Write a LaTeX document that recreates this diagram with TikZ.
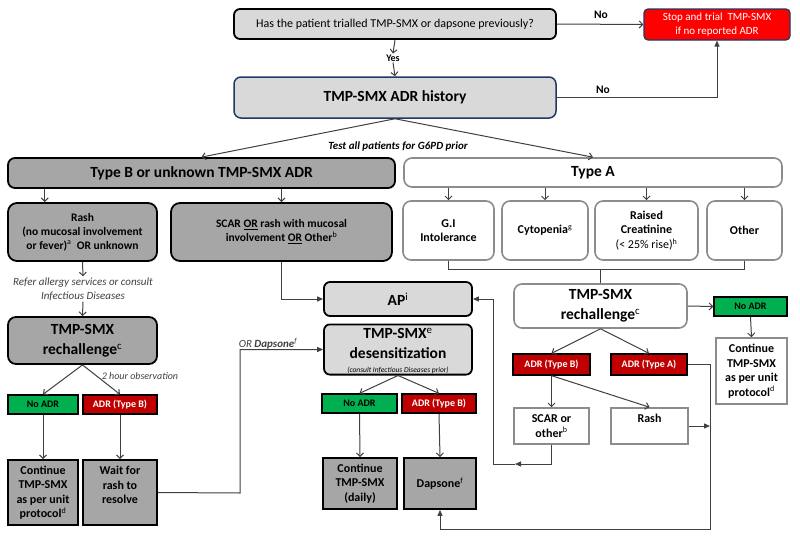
\documentclass[tikz,border=0pt]{standalone}
\usepackage{fontspec}
\setmainfont{Carlito}
\usetikzlibrary{arrows.meta,calc}
\definecolor{lgray}{HTML}{D9D9D9}
\definecolor{dgray}{HTML}{A6A6A6}
\definecolor{bgray}{HTML}{8C8C8C}
\definecolor{adrgreen}{HTML}{00B050}
\definecolor{adrred}{HTML}{C00000}
\definecolor{stopred}{HTML}{FF0000}
\definecolor{navy}{HTML}{1F3864}
\definecolor{lnc}{HTML}{404040}
\newcommand{\fsXL}{\fontsize{15.5}{20}\selectfont}
\newcommand{\fsL}{\fontsize{12}{14.5}\selectfont}
\newcommand{\fsM}{\fontsize{11.5}{14}\selectfont}
\newcommand{\fsS}{\fontsize{10}{12}\selectfont}
\newcommand{\fsI}{\fontsize{10}{13.5}\selectfont}
\newcommand{\fsIL}{\fontsize{11}{14}\selectfont}
\begin{document}
\begin{tikzpicture}[x=1pt,y=-1pt,
 wh/.style 2 args={minimum width=#1, minimum height=#2},
 base/.style={align=center, inner sep=1pt, text=black},
 lgbox/.style={base, rounded corners=6, draw=black, line width=1.8, fill=lgray, font=\bfseries\fsXL},
 dgbox/.style={base, rounded corners=7, draw=black, line width=1.8, fill=dgray, font=\bfseries\fsXL},
 wbox/.style={base, rounded corners=8, draw=bgray, line width=1.6, fill=white, font=\bfseries\fsL},
 histbox/.style={base, rounded corners=7, draw=navy, line width=1.5, fill=lgray, font=\bfseries\fsXL},
 stopbox/.style={base, rounded corners=4, draw=navy, line width=1.2, fill=stopred, text=white, font=\fontsize{11}{14}\selectfont},
 lab/.style={base, inner sep=0pt, draw=black, line width=1.3, font=\bfseries\fsS},
 sqd/.style={base, draw=black, line width=1.8, fill=dgray, font=\bfseries\fsL},
 sqw/.style={base, draw=bgray, line width=1.6, fill=white, font=\bfseries\fsL},
 oarr/.style={draw=lnc, line width=1, -{Straight Barb[length=3.5pt,width=7pt]}},
 farr/.style={draw=lnc, line width=1, -{Triangle[length=6pt,width=5pt]}},
 ln/.style={draw=lnc, line width=1}]
\fill[white] (0,0) rectangle (800,538);
\useasboundingbox (0,0) rectangle (800,538);

% top
\node[lgbox, font=\fontsize{12}{14}\selectfont, wh={322}{30}] (q1) at (395,24) {Has the patient trialled TMP-SMX or dapsone previously?};
\node[stopbox, wh={146}{31}] (stop) at (717,24.5) {Stop and trial\ \ TMP-SMX\\if no reported ADR};
\node[font=\bfseries\fsS, inner sep=1pt] (yes) at (393,58) {Yes};
\node[histbox, wh={322}{41}] (hist) at (395,97.5) {TMP-SMX ADR history};
\node[font=\bfseries\fsM] (no1) at (601,15) {No};
\node[font=\bfseries\fsM] (no2) at (603,90) {No};
\node[font=\bfseries\itshape\fsIL] (test) at (398,147) {Test all patients for G6PD prior};

\node[dgbox, wh={387}{30}] (typeB) at (201.5,173) {Type B or unknown TMP-SMX ADR};
\node[wbox, font=\bfseries\fsXL, wh={378}{29}] (typeA) at (593,172.5) {Type A};

% left branch
\node[dgbox, font=\bfseries\fsM, wh={149}{58}, rounded corners=9] (rash) at (82.5,232) {Rash\\(no mucosal involvement\\or fever)\textsuperscript{\mdseries a}\ \ OR unknown};
\node[dgbox, font=\bfseries\fsM, wh={221}{58}, rounded corners=9] (scar) at (281.5,232) {SCAR \underline{OR} rash with mucosal\\involvement \underline{OR} Other\textsuperscript{\mdseries b}};
\node[font=\itshape\fsIL, align=center, text=lnc, inner sep=1pt] (refer) at (83,289) {Refer allergy services or consult\\Infectious Diseases};
\node[dgbox, wh={149}{47}, rounded corners=8] (rechL) at (82.5,340.5) {TMP-SMX\\rechallenge\textsuperscript{\mdseries c}};
\node[font=\itshape\fsI, text=lnc] (obs) at (140,376) {2 hour observation};
\node[lab, fill=adrgreen, wh={70}{19}] (noL) at (43,404.5) {No ADR};
\node[lab, fill=adrred, text=white, wh={74}{19}] (adrL) at (120,404.5) {ADR (Type B)};
\node[sqd, wh={70}{65}] (contL) at (43,492.5) {Continue\\TMP-SMX\\as per unit\\protocol\textsuperscript{\mdseries d}};
\node[sqd, wh={74}{65}] (wait) at (120,492.5) {Wait for\\rash to\\resolve\\\mbox{}};

% middle
\node[lgbox, wh={148}{34}] (ap) at (398,299) {AP\textsuperscript{\mdseries i}};
\node[lgbox, wh={148}{49}] (desens) at (398,349.5) {\rule{0pt}{13pt}TMP-SMX\textsuperscript{\mdseries e}\\desensitization\\[-6pt]{\mdseries\itshape\fontsize{7.5}{9}\selectfont (consult Infectious Diseases prior)}};
\node[font=\fsIL, text=lnc] (ordap) at (268,344) {\itshape OR \textbf{Dapsone}\textsuperscript{f}};
\node[lab, fill=adrgreen, wh={75}{19}] (noM) at (359.5,403.5) {No ADR};
\node[lab, fill=adrred, text=white, wh={74}{19}] (adrM) at (439,403.5) {ADR (Type B)};
\node[sqd, wh={74}{51}] (contM) at (360,483.5) {Continue\\TMP-SMX\\(daily)};
\node[sqd, wh={72}{51}] (daps) at (440,483.5) {Dapsone\textsuperscript{\mdseries f}};

% right branch
\node[wbox, wh={91}{59}] (gi) at (448.5,230.5) {G.I\\Intolerance};
\node[wbox, wh={86}{59}] (cyto) at (545,230.5) {Cytopenia\textsuperscript{\mdseries g}};
\node[wbox, wh={103}{59}] (creat) at (646.5,230.5) {Raised\\Creatinine\\{\mdseries (< 25\% rise)\textsuperscript{h}}};
\node[wbox, wh={75}{59}] (other) at (744.5,230.5) {Other};
\node[wbox, font=\bfseries\fsXL, wh={173}{44}] (rechR) at (600.5,306) {TMP-SMX\\rechallenge\textsuperscript{\mdseries c}};
\node[lab, fill=adrgreen, wh={73}{19}] (noR) at (750.5,306.5) {No ADR};
\node[sqw, wh={71}{66}] (contR) at (751.5,371) {Continue\\TMP-SMX\\as per unit\\protocol\textsuperscript{\mdseries d}};
\node[lab, fill=adrred, text=white, wh={77}{21}] (adrRB) at (551.5,364.5) {ADR (Type B)};
\node[lab, fill=adrred, text=white, wh={76}{21}] (adrRA) at (649,364.5) {ADR (Type A)};
\node[sqw, wh={75}{36}] (scarR) at (551.5,426) {SCAR or\\other\textsuperscript{\mdseries b}};
\node[sqw, wh={77}{36}] (rashR) at (649.5,426) {Rash\\\mbox{}};

% connectors top
\draw[oarr] (q1.south) -- (yes.north);
\draw[oarr] (yes.south) -- (hist.north);
\draw[oarr] (q1.east) -- (stop.west);
\draw[farr] (hist.east) -| (stop.south);
\draw[oarr] (hist.south) -- (typeB.north);
\draw[oarr] (hist.south) -- (typeA.north);

% left
\coordinate (rashIn) at ($(rash.north west)!.25!(rash.north east)$);
\draw[oarr] (typeB.south -| rashIn) -- (rashIn);
\draw[oarr] (typeB.south -| scar.north) -- (scar.north);
\draw[oarr] (rash.south) -- (refer.north);
\draw[oarr] (refer.south) -- (rechL.north);
\draw[oarr] (rechL.south) -- (noL.north);
\draw[oarr] (rechL.south) -- (adrL.north);
\draw[oarr] (noL.south) -- (contL.north);
\draw[oarr] (adrL.south) -- (wait.north);
\coordinate (wr) at (240,493);
\draw[farr] (wait.east) -- (wr) |- (desens.west);
\draw[farr] (scar.south) |- (ap.west);

% middle
\draw[oarr] (desens.south) -- (noM.north);
\draw[oarr] (desens.south) -- (adrM.north);
\draw[oarr] (noM.south) -- (contM.north);
\draw[oarr] (adrM.south) -- (daps.north);

% right
\foreach \n in {gi,cyto,creat,other} \draw[oarr] (typeA.south -| \n.north) -- (\n.north);
\draw[ln] (gi.south) -- ++(0,9) coordinate (b1) -| (other.south);
\draw[ln] (b1 -| rechR.north) -- (rechR.north);
\draw[oarr] (rechR.east) -- (noR.west);
\draw[oarr] (noR.south) -- (contR.north);
\draw[oarr] (rechR.south) -- (adrRB.north);
\draw[oarr] (rechR.south) -- (adrRA.north);
\draw[oarr] (adrRB.south) -- (scarR.north);
\draw[oarr] (adrRB.south) -- (rashR.north);
\coordinate (rt) at (710,529);
\draw[farr] (adrRA.east) -| (rt) -| (daps.south);
\draw[farr] (rashR.east) -- (rashR.east -| rt);
\coordinate (lpA) at (515,464);
\coordinate (lpB) at (493,464);
\draw[farr] (scarR.south) |- (lpA);
\draw[farr] (lpA) -- (lpB) |- (ap.east);
\end{tikzpicture}
\end{document}
